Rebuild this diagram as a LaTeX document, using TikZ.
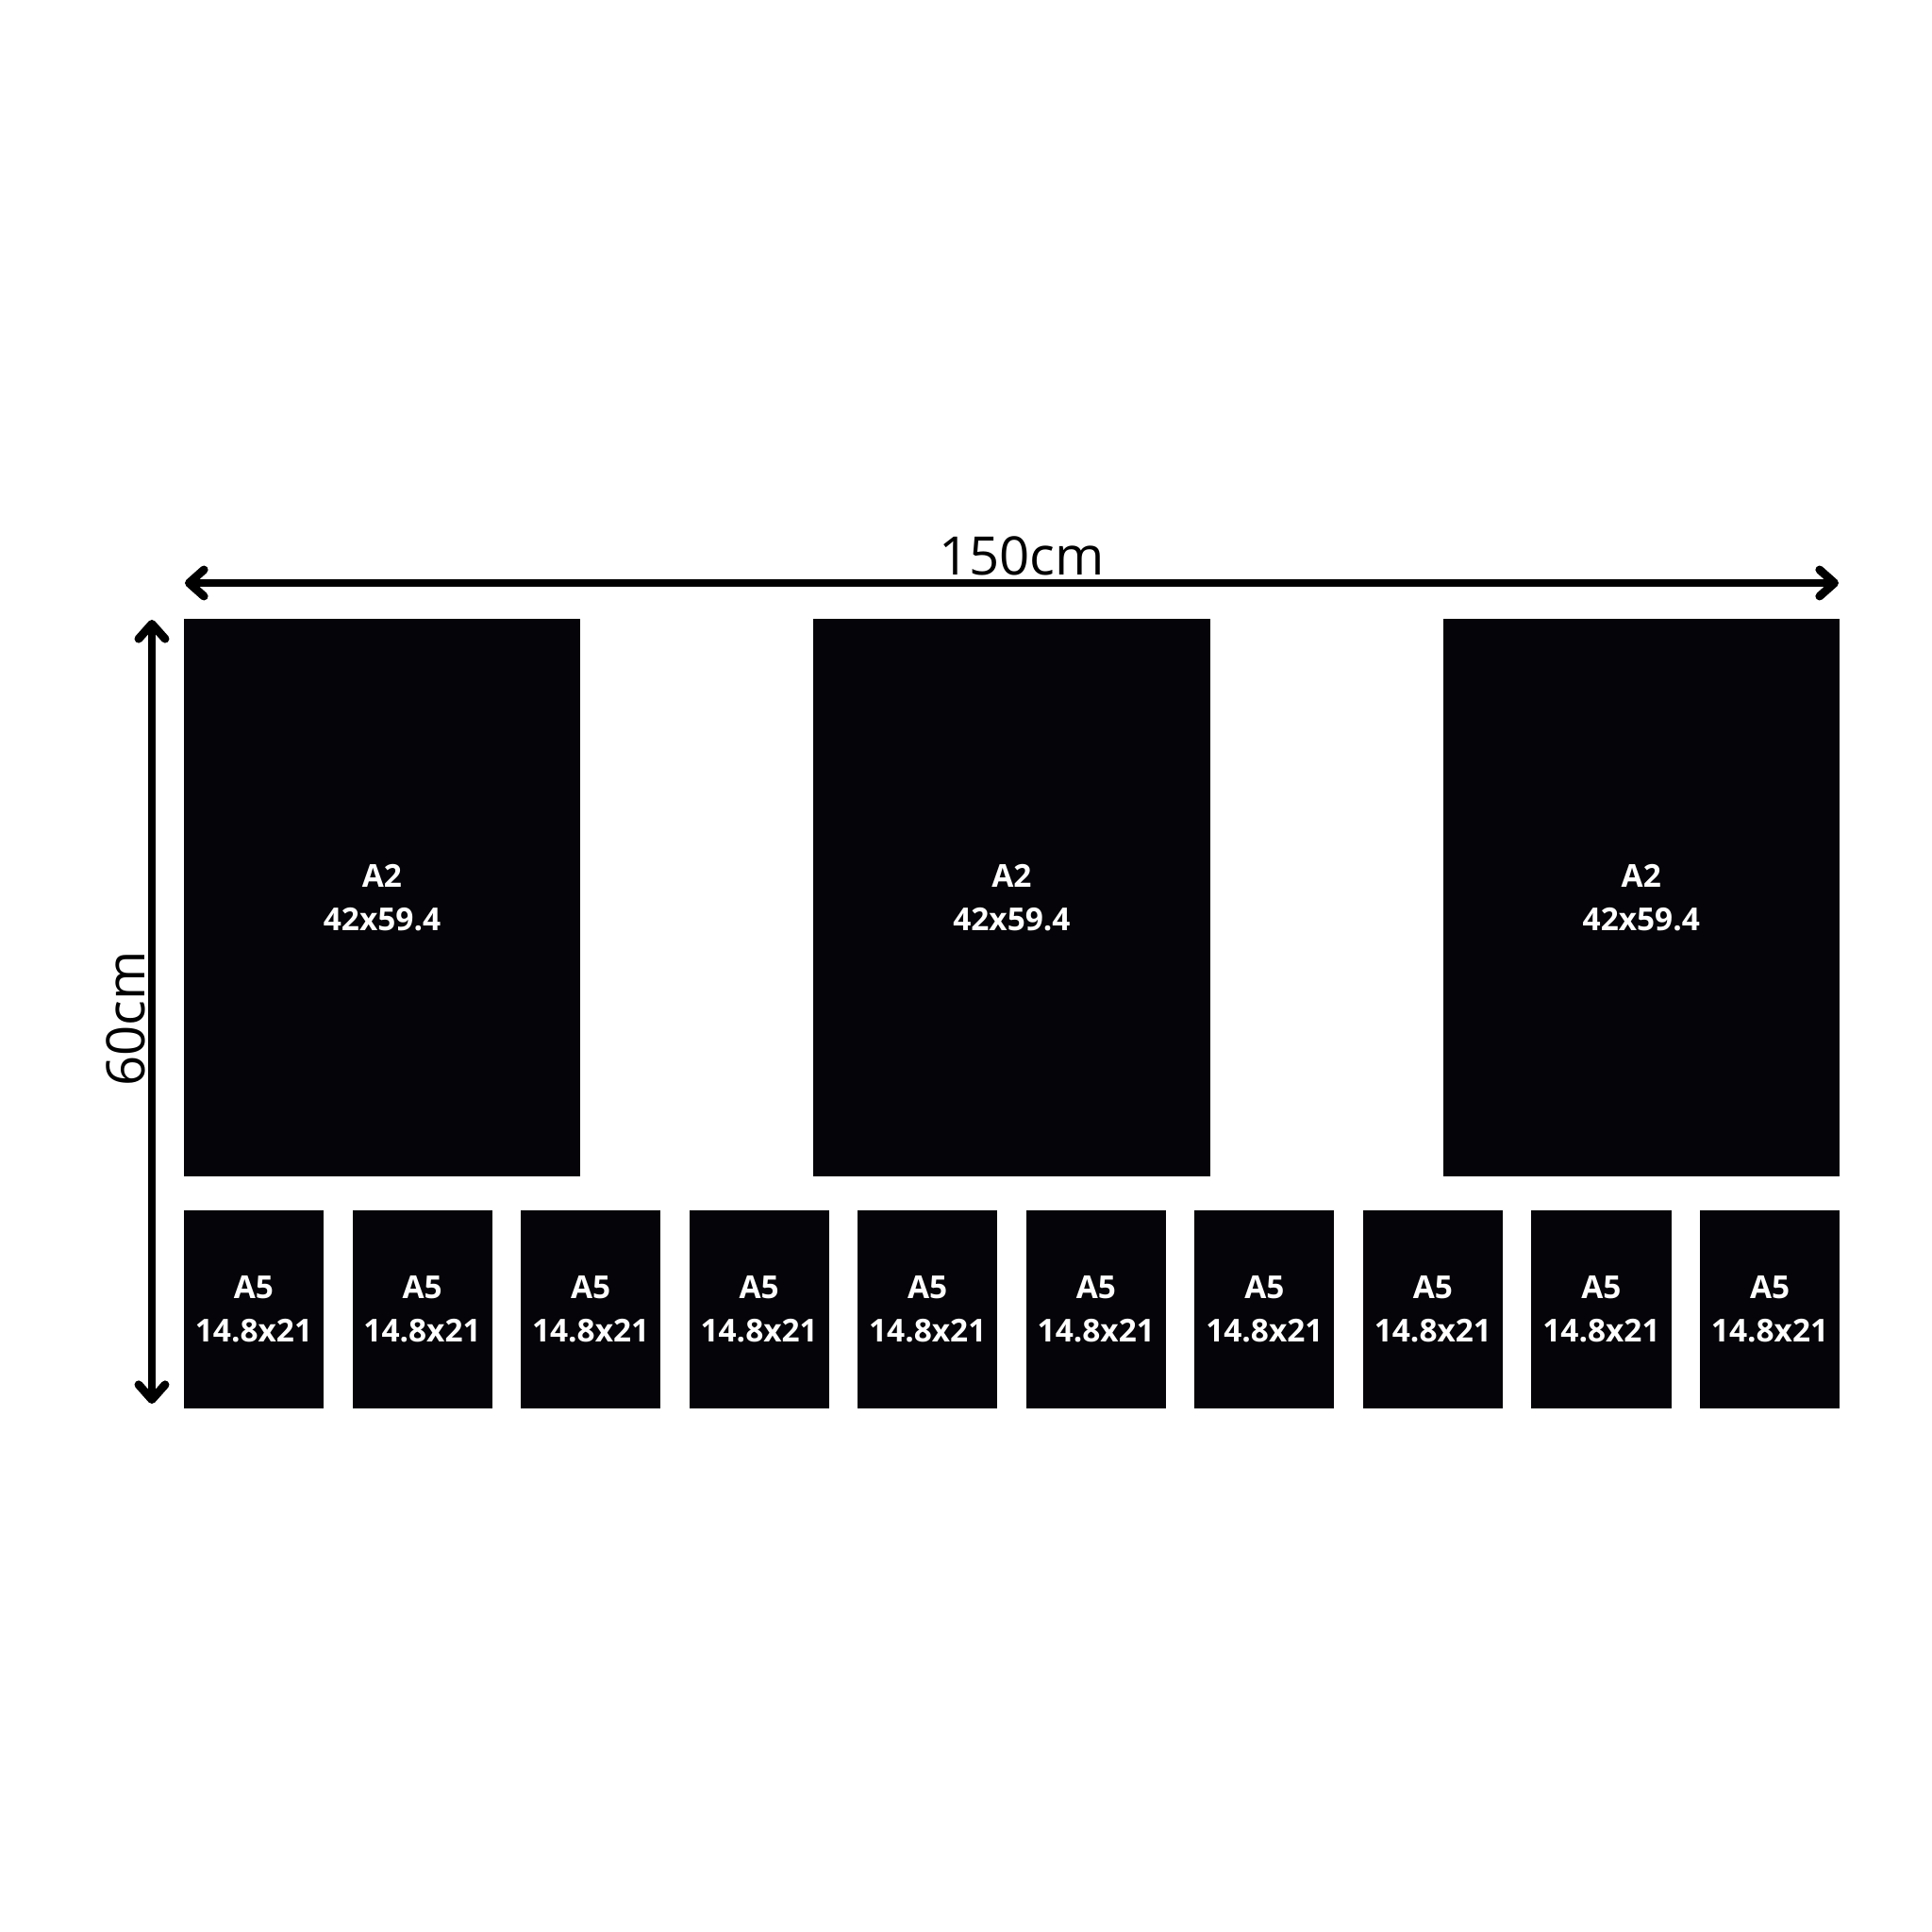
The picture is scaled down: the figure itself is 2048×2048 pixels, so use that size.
\documentclass[tikz,border=0pt]{standalone}
\usepackage{fontspec}
\setmainfont{Open Sans}
\usetikzlibrary{arrows.meta,positioning}
\definecolor{printblack}{HTML}{050408}
\tikzset{
  poster/.style={fill=printblack,text=white,align=center,inner sep=0pt,outer sep=0pt,
    font=\fontsize{9.5}{13}\selectfont\bfseries},
  bigprint/.style={poster,minimum width=4.2cm,minimum height=5.91cm},
  smallprint/.style={poster,minimum width=1.48cm,minimum height=2.1cm},
  dimline/.style={line width=2.5pt,{Straight Barb[length=4.5pt,width=8pt,round]}-{Straight Barb[length=4.5pt,width=8pt,round]}},
  dimlabel/.style={font=\fontsize{16}{18}\selectfont}
}
\begin{document}
\begin{tikzpicture}[x=0.01cm,y=-0.01cm]
\useasboundingbox (0,0) rectangle (2048,2048);
% A2 row
\node[bigprint] (a2-1) at (405,951.5) {A2\\42x59.4};
\node[bigprint,right=2.47cm of a2-1] (a2-2) {A2\\42x59.4};
\node[bigprint,right=2.47cm of a2-2] (a2-3) {A2\\42x59.4};
% A5 row
\foreach \i in {1,...,10}
  \node[smallprint] (a5-\i) at ({269+(\i-1)*178.56},1388) {A5\\14.8x21};
% dimensions
\coordinate (wleft) at (196,618);
\coordinate (wright) at (1949,618);
\coordinate (htop) at (161,657);
\coordinate (hbottom) at (161,1488);
\draw[dimline] (wleft) -- (wright);
\draw[dimline] (htop) -- (hbottom);
\node[dimlabel] (width) at (1083,589) {150cm};
\node[dimlabel,rotate=90] (height) at (133,1080) {60cm};
\end{tikzpicture}
\end{document}
